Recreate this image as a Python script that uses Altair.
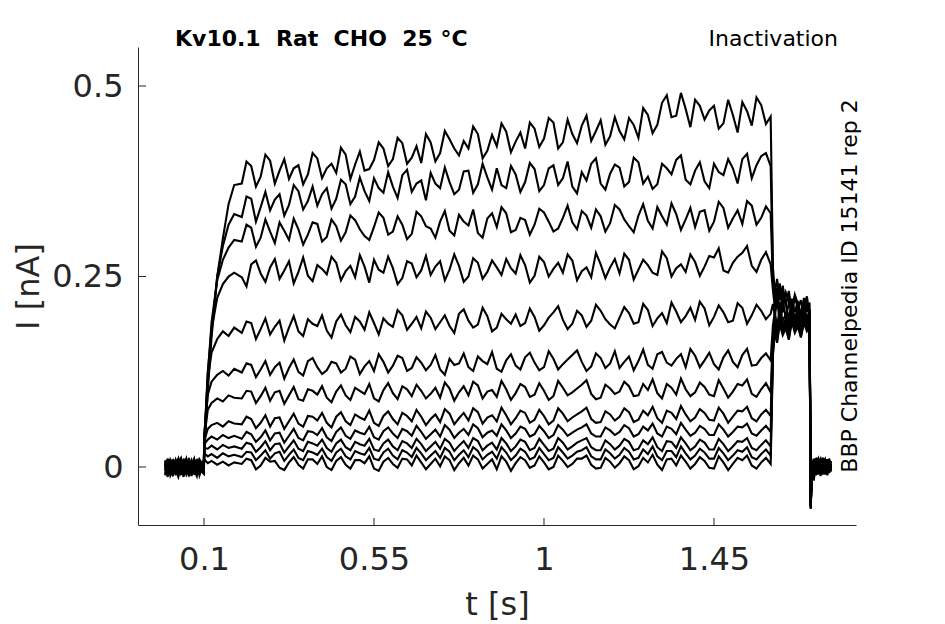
import altair as alt
import pandas as pd

# ---------------- data ----------------
XTICKS = [0.1, 0.55, 1, 1.45]
YTICKS = [0, 0.25, 0.5]

T_BASE = [-0.003, 0.004, 0.011, 0.018, 0.025, 0.032, 0.039, 0.046, 0.053, 0.06,
          0.067, 0.074, 0.081, 0.088, 0.0995]
T_RISE = [0.101, 0.11, 0.12, 0.135, 0.15, 0.165, 0.18]
T_PLATEAU = [0.2, 0.225, 0.25, 0.275, 0.3, 0.325, 0.35, 0.375, 0.4, 0.425,
             0.45, 0.475, 0.5, 0.525, 0.55, 0.575, 0.6, 0.625, 0.65, 0.675,
             0.7, 0.725, 0.75, 0.775, 0.8, 0.825, 0.85, 0.875, 0.9, 0.925,
             0.95, 0.975, 1.0, 1.025, 1.05, 1.075, 1.1, 1.125, 1.15, 1.175,
             1.2, 1.225, 1.25, 1.275, 1.3, 1.325, 1.35, 1.375, 1.4, 1.425,
             1.45, 1.475, 1.5, 1.525, 1.55, 1.575, 1.6]
T_PLATEAU_MID = [0.2125, 0.2375, 0.2625, 0.2875, 0.3125, 0.3375, 0.3625, 0.3875, 0.4125, 0.4375,
                 0.4625, 0.4875, 0.5125, 0.5375, 0.5625, 0.5875, 0.6125, 0.6375, 0.6625, 0.6875,
                 0.7125, 0.7375, 0.7625, 0.7875, 0.8125, 0.8375, 0.8625, 0.8875, 0.9125, 0.9375,
                 0.9625, 0.9875, 1.0125, 1.0375, 1.0625, 1.0875, 1.1125, 1.1375, 1.1625, 1.1875,
                 1.2125, 1.2375, 1.2625, 1.2875, 1.3125, 1.3375, 1.3625, 1.3875, 1.4125, 1.4375,
                 1.4625, 1.4875, 1.5125, 1.5375, 1.5625, 1.5875]
T_TAIL = [1.606, 1.611, 1.617, 1.624, 1.632, 1.64, 1.648, 1.656, 1.664, 1.672,
          1.68, 1.688, 1.696, 1.703]
T_POST = [1.706, 1.709, 1.714, 1.72, 1.726, 1.732, 1.738, 1.744, 1.75, 1.755, 1.76]

BASE = [
    [0.004, -0.009, 0.007, -0.004, 0.01, -0.011, 0.002, 0.008, -0.007, 0.005, -0.012, 0.006, -0.003, 0.009, -0.002],
    [-0.006, 0.008, -0.01, 0.005, -0.003, 0.009, -0.008, 0.001, 0.011, -0.006, 0.004, -0.009, 0.007, -0.005, 0.006],
    [0.009, -0.004, 0.003, -0.012, 0.006, 0.001, -0.007, 0.01, -0.003, -0.01, 0.007, 0.002, -0.008, 0.004, -0.006],
    [-0.002, 0.011, -0.006, 0.004, -0.009, 0.007, 0.012, -0.005, 0.003, 0.008, -0.011, 0.005, 0.009, -0.007, 0.003],
    [0.006, -0.012, 0.009, 0.001, -0.005, -0.013, 0.006, -0.002, 0.009, -0.008, 0.002, 0.011, -0.006, 0.001, -0.004],
    [-0.009, 0.003, -0.002, 0.01, -0.007, 0.004, -0.01, 0.007, -0.005, 0.012, -0.003, -0.008, 0.005, -0.011, 0.007],
    [0.002, 0.007, -0.011, -0.003, 0.008, -0.006, 0.003, -0.013, 0.006, 0.001, 0.009, -0.004, -0.012, 0.008, -0.001],
    [-0.005, -0.001, 0.01, -0.008, 0.002, 0.011, -0.004, 0.005, -0.009, 0.003, -0.006, 0.008, 0.002, -0.009, 0.005],
    [0.008, -0.007, 0.002, 0.006, -0.01, 0.005, -0.002, -0.008, 0.01, -0.004, 0.006, -0.01, 0.004, 0.007, -0.008],
    [-0.011, 0.005, -0.003, -0.006, 0.009, -0.002, 0.008, -0.005, 0.001, -0.012, 0.005, 0.003, -0.007, 0.01, 0.001],
    [0.003, -0.013, 0.006, 0.009, -0.004, 0.002, -0.009, 0.011, -0.006, 0.007, -0.001, -0.005, 0.01, -0.003, -0.009],
    [-0.004, 0.01, -0.008, 0.002, 0.007, -0.01, 0.005, -0.003, 0.008, 0.004, -0.009, 0.007, -0.004, 0.002, 0.008],
]

RISE = [
    [0.02, 0.1, 0.17, 0.25, 0.3, 0.345, 0.37],
    [0.025, 0.11, 0.18, 0.25, 0.29, 0.318, 0.332],
    [0.03, 0.12, 0.19, 0.245, 0.272, 0.288, 0.298],
    [0.035, 0.125, 0.18, 0.222, 0.24, 0.25, 0.255],
    [0.04, 0.115, 0.15, 0.168, 0.178, 0.172, 0.183],
    [0.045, 0.095, 0.112, 0.121, 0.126, 0.12, 0.129],
    [0.04, 0.075, 0.084, 0.09, 0.086, 0.094, 0.091],
    [0.035, 0.05, 0.055, 0.058, 0.053, 0.06, 0.057],
    [0.03, 0.036, 0.04, 0.036, 0.042, 0.038, 0.041],
    [0.025, 0.024, 0.028, 0.023, 0.029, 0.025, 0.027],
    [0.018, 0.014, 0.017, 0.012, 0.018, 0.014, 0.016],
    [0.01, 0.005, 0.008, 0.003, 0.007, 0.002, 0.006],
]

PLATEAU_01 = [0.372, 0.395, 0.381, 0.402, 0.389, 0.378, 0.396, 0.384, 0.405, 0.392,
              0.386, 0.41, 0.397, 0.389, 0.403, 0.418, 0.404, 0.425, 0.406, 0.399,
              0.426, 0.412, 0.43, 0.409, 0.418, 0.437, 0.415, 0.421, 0.44, 0.427,
              0.418, 0.444, 0.431, 0.452, 0.426, 0.437, 0.448, 0.428, 0.455, 0.434,
              0.441, 0.458, 0.432, 0.462, 0.449, 0.488, 0.461, 0.47, 0.482, 0.456,
              0.474, 0.451, 0.462, 0.479, 0.448, 0.475, 0.46]
PLATEAU_02 = [0.328, 0.352, 0.341, 0.337, 0.358, 0.344, 0.362, 0.349, 0.343, 0.366,
              0.352, 0.371, 0.355, 0.362, 0.379, 0.36, 0.368, 0.383, 0.361, 0.376,
              0.386, 0.366, 0.374, 0.364, 0.389, 0.371, 0.38, 0.392, 0.366, 0.384,
              0.374, 0.391, 0.37, 0.396, 0.379, 0.368, 0.387, 0.398, 0.372, 0.385,
              0.393, 0.374, 0.4, 0.381, 0.371, 0.392, 0.403, 0.377, 0.389, 0.375,
              0.398, 0.383, 0.392, 0.404, 0.379, 0.408, 0.395]
PLATEAU_03 = [0.296, 0.314, 0.301, 0.309, 0.321, 0.298, 0.312, 0.305, 0.319, 0.302,
              0.316, 0.308, 0.324, 0.303, 0.315, 0.327, 0.309, 0.318, 0.306, 0.329,
              0.313, 0.322, 0.31, 0.331, 0.317, 0.307, 0.326, 0.315, 0.333, 0.311,
              0.324, 0.318, 0.334, 0.309, 0.327, 0.321, 0.336, 0.314, 0.329, 0.32,
              0.338, 0.316, 0.33, 0.323, 0.341, 0.318, 0.332, 0.325, 0.315, 0.337,
              0.322, 0.34, 0.326, 0.319, 0.343, 0.327, 0.333]
PLATEAU_04 = [0.249, 0.266, 0.254, 0.262, 0.247, 0.27, 0.256, 0.251, 0.265, 0.253,
              0.268, 0.257, 0.249, 0.263, 0.272, 0.255, 0.261, 0.248, 0.267, 0.258,
              0.252, 0.27, 0.259, 0.264, 0.25, 0.268, 0.256, 0.262, 0.273, 0.254,
              0.265, 0.251, 0.269, 0.26, 0.255, 0.271, 0.257, 0.249, 0.266, 0.262,
              0.254, 0.272, 0.259, 0.265, 0.252, 0.274, 0.261, 0.256, 0.269, 0.263,
              0.275, 0.258, 0.268, 0.281, 0.264, 0.272, 0.266]
PLATEAU_05 = [0.176, 0.189, 0.181, 0.174, 0.192, 0.183, 0.178, 0.194, 0.185, 0.179,
              0.191, 0.186, 0.197, 0.18, 0.189, 0.195, 0.184, 0.199, 0.188, 0.182,
              0.196, 0.19, 0.185, 0.201, 0.192, 0.187, 0.198, 0.183, 0.194, 0.2,
              0.189, 0.197, 0.186, 0.203, 0.193, 0.188, 0.199, 0.192, 0.205, 0.187,
              0.196, 0.202, 0.19, 0.206, 0.195, 0.189, 0.204, 0.198, 0.193, 0.208,
              0.197, 0.203, 0.192, 0.209, 0.199, 0.205, 0.201]
PLATEAU_06 = [0.124, 0.134, 0.128, 0.121, 0.137, 0.13, 0.125, 0.139, 0.131, 0.127,
              0.136, 0.129, 0.141, 0.132, 0.126, 0.138, 0.133, 0.143, 0.13, 0.137,
              0.134, 0.128, 0.142, 0.136, 0.131, 0.145, 0.135, 0.129, 0.14, 0.133,
              0.144, 0.137, 0.131, 0.142, 0.135, 0.147, 0.138, 0.132, 0.143, 0.136,
              0.13, 0.145, 0.139, 0.134, 0.148, 0.137, 0.142, 0.131, 0.146, 0.14,
              0.135, 0.144, 0.138, 0.147, 0.133, 0.143, 0.14]
PLATEAU_07 = [0.09, 0.099, 0.093, 0.087, 0.1, 0.094, 0.089, 0.102, 0.095, 0.091,
              0.099, 0.094, 0.104, 0.096, 0.09, 0.101, 0.097, 0.106, 0.093, 0.1,
              0.096, 0.091, 0.103, 0.098, 0.094, 0.107, 0.099, 0.092, 0.102, 0.097,
              0.105, 0.095, 0.1, 0.093, 0.104, 0.098, 0.108, 0.096, 0.091, 0.103,
              0.099, 0.106, 0.094, 0.101, 0.097, 0.109, 0.095, 0.102, 0.098, 0.105,
              0.093, 0.103, 0.099, 0.107, 0.096, 0.102, 0.098]
PLATEAU_08 = [0.056, 0.063, 0.058, 0.053, 0.065, 0.06, 0.057, 0.067, 0.061, 0.058,
              0.066, 0.06, 0.069, 0.062, 0.058, 0.067, 0.063, 0.071, 0.06, 0.066,
              0.063, 0.059, 0.07, 0.064, 0.061, 0.072, 0.065, 0.06, 0.068, 0.064,
              0.071, 0.062, 0.067, 0.061, 0.07, 0.065, 0.073, 0.063, 0.059, 0.069,
              0.066, 0.072, 0.062, 0.068, 0.064, 0.074, 0.063, 0.069, 0.065, 0.071,
              0.061, 0.07, 0.066, 0.073, 0.064, 0.069, 0.067]
PLATEAU_09 = [0.037, 0.043, 0.039, 0.035, 0.045, 0.041, 0.038, 0.047, 0.042, 0.039,
              0.046, 0.041, 0.048, 0.043, 0.039, 0.047, 0.044, 0.05, 0.041, 0.046,
              0.043, 0.04, 0.049, 0.045, 0.042, 0.051, 0.045, 0.041, 0.048, 0.044,
              0.05, 0.043, 0.047, 0.042, 0.049, 0.045, 0.052, 0.044, 0.04, 0.048,
              0.046, 0.051, 0.043, 0.048, 0.044, 0.053, 0.043, 0.049, 0.045, 0.05,
              0.042, 0.049, 0.046, 0.052, 0.044, 0.048, 0.046]
PLATEAU_10 = [0.024, 0.03, 0.026, 0.022, 0.031, 0.027, 0.024, 0.033, 0.028, 0.025,
              0.031, 0.026, 0.033, 0.028, 0.023, 0.031, 0.027, 0.034, 0.025, 0.03,
              0.027, 0.024, 0.032, 0.028, 0.025, 0.034, 0.028, 0.023, 0.031, 0.027,
              0.033, 0.025, 0.029, 0.024, 0.032, 0.027, 0.035, 0.026, 0.022, 0.03,
              0.028, 0.033, 0.024, 0.03, 0.026, 0.034, 0.025, 0.031, 0.027, 0.032,
              0.023, 0.03, 0.027, 0.033, 0.025, 0.029, 0.027]
PLATEAU_11 = [0.013, 0.019, 0.015, 0.011, 0.02, 0.016, 0.012, 0.021, 0.016, 0.013,
              0.019, 0.014, 0.021, 0.016, 0.011, 0.019, 0.015, 0.022, 0.013, 0.018,
              0.015, 0.012, 0.02, 0.016, 0.013, 0.021, 0.016, 0.011, 0.019, 0.015,
              0.02, 0.013, 0.017, 0.012, 0.019, 0.015, 0.022, 0.014, 0.01, 0.018,
              0.016, 0.02, 0.012, 0.017, 0.014, 0.021, 0.013, 0.018, 0.015, 0.019,
              0.011, 0.018, 0.015, 0.02, 0.013, 0.017, 0.015]
PLATEAU_12 = [0.004, 0.009, 0.002, 0.007, -0.001, 0.006, 0.003, 0.01, 0.004, 0.0,
              0.008, 0.003, 0.009, 0.005, -0.002, 0.007, 0.004, 0.011, 0.002, 0.006,
              0.004, 0.001, 0.009, 0.005, 0.002, 0.01, 0.004, -0.003, 0.007, 0.005,
              0.009, 0.002, 0.006, 0.0, 0.008, 0.004, 0.011, 0.003, -0.001, 0.007,
              0.005, 0.009, 0.001, 0.006, 0.003, 0.01, 0.002, 0.007, 0.004, 0.008,
              -0.002, 0.006, 0.004, 0.009, 0.002, 0.006, 0.004]

MID_01 = [0.401, 0.368, 0.41, 0.372, 0.404, 0.392, 0.371, 0.412, 0.379, 0.398,
          0.419, 0.378, 0.414, 0.391, 0.426, 0.395, 0.432, 0.398, 0.421, 0.437,
          0.401, 0.441, 0.418, 0.428, 0.447, 0.405, 0.436, 0.451, 0.413, 0.439,
          0.452, 0.42, 0.458, 0.418, 0.456, 0.425, 0.461, 0.441, 0.423, 0.459,
          0.43, 0.449, 0.471, 0.438, 0.478, 0.459, 0.491, 0.446, 0.474, 0.468,
          0.444, 0.482, 0.439, 0.467, 0.485, 0.45]
MID_02 = [0.355, 0.322, 0.361, 0.351, 0.33, 0.37, 0.338, 0.368, 0.358, 0.339,
          0.377, 0.345, 0.38, 0.349, 0.366, 0.387, 0.353, 0.39, 0.372, 0.35,
          0.372, 0.393, 0.358, 0.388, 0.36, 0.398, 0.364, 0.37, 0.395, 0.361,
          0.399, 0.362, 0.392, 0.37, 0.401, 0.359, 0.376, 0.405, 0.364, 0.397,
          0.368, 0.406, 0.372, 0.365, 0.398, 0.384, 0.409, 0.371, 0.4, 0.366,
          0.387, 0.404, 0.372, 0.411, 0.396, 0.412]
MID_03 = [0.318, 0.289, 0.325, 0.294, 0.31, 0.326, 0.292, 0.321, 0.296, 0.325,
          0.297, 0.33, 0.312, 0.298, 0.334, 0.305, 0.329, 0.299, 0.335, 0.316,
          0.301, 0.336, 0.304, 0.322, 0.338, 0.301, 0.333, 0.341, 0.308, 0.327,
          0.305, 0.339, 0.322, 0.313, 0.343, 0.312, 0.33, 0.338, 0.309, 0.344,
          0.325, 0.308, 0.345, 0.313, 0.329, 0.346, 0.311, 0.34, 0.335, 0.31,
          0.348, 0.314, 0.337, 0.349, 0.318, 0.342]
MID_04 = [0.237, 0.271, 0.243, 0.273, 0.258, 0.241, 0.275, 0.244, 0.26, 0.276,
          0.245, 0.264, 0.278, 0.242, 0.259, 0.276, 0.24, 0.27, 0.249, 0.277,
          0.263, 0.245, 0.279, 0.243, 0.274, 0.247, 0.271, 0.252, 0.261, 0.278,
          0.242, 0.276, 0.25, 0.268, 0.279, 0.245, 0.262, 0.281, 0.248, 0.273,
          0.28, 0.246, 0.272, 0.255, 0.283, 0.25, 0.266, 0.279, 0.251, 0.277,
          0.287, 0.255, 0.276, 0.29, 0.256, 0.282]
MID_05 = [0.191, 0.168, 0.195, 0.184, 0.166, 0.198, 0.172, 0.188, 0.199, 0.17,
          0.2, 0.177, 0.191, 0.203, 0.174, 0.188, 0.206, 0.18, 0.197, 0.204,
          0.181, 0.199, 0.176, 0.207, 0.183, 0.209, 0.178, 0.201, 0.188, 0.185,
          0.208, 0.179, 0.196, 0.211, 0.181, 0.205, 0.184, 0.213, 0.194, 0.182,
          0.21, 0.188, 0.214, 0.185, 0.202, 0.216, 0.19, 0.209, 0.217, 0.186,
          0.212, 0.19, 0.215, 0.188, 0.213, 0.194]
MID_06 = [0.136, 0.118, 0.139, 0.131, 0.116, 0.141, 0.12, 0.143, 0.122, 0.138,
          0.124, 0.145, 0.122, 0.139, 0.148, 0.124, 0.146, 0.126, 0.144, 0.127,
          0.147, 0.121, 0.134, 0.149, 0.126, 0.139, 0.151, 0.125, 0.148, 0.128,
          0.15, 0.127, 0.152, 0.128, 0.141, 0.153, 0.126, 0.149, 0.13, 0.152,
          0.138, 0.127, 0.154, 0.129, 0.151, 0.133, 0.148, 0.155, 0.131, 0.15,
          0.128, 0.153, 0.131, 0.155, 0.134, 0.149]
MID_07 = [0.1, 0.084, 0.104, 0.098, 0.083, 0.105, 0.087, 0.1, 0.106, 0.085,
          0.107, 0.088, 0.1, 0.109, 0.086, 0.11, 0.089, 0.102, 0.108, 0.09,
          0.104, 0.111, 0.087, 0.106, 0.112, 0.09, 0.101, 0.113, 0.088, 0.109,
          0.092, 0.11, 0.088, 0.113, 0.094, 0.103, 0.114, 0.089, 0.108, 0.096,
          0.112, 0.093, 0.109, 0.115, 0.09, 0.104, 0.116, 0.093, 0.111, 0.095,
          0.114, 0.091, 0.109, 0.115, 0.092, 0.11]
MID_08 = [0.066, 0.051, 0.068, 0.064, 0.05, 0.07, 0.053, 0.066, 0.071, 0.052,
          0.072, 0.055, 0.065, 0.074, 0.054, 0.073, 0.056, 0.067, 0.075, 0.055,
          0.069, 0.076, 0.056, 0.071, 0.077, 0.057, 0.068, 0.078, 0.056, 0.074,
          0.058, 0.075, 0.056, 0.077, 0.06, 0.069, 0.078, 0.058, 0.073, 0.061,
          0.077, 0.059, 0.074, 0.079, 0.058, 0.071, 0.08, 0.06, 0.076, 0.062,
          0.078, 0.058, 0.074, 0.079, 0.06, 0.075]
MID_09 = [0.046, 0.033, 0.048, 0.044, 0.032, 0.05, 0.035, 0.046, 0.051, 0.034,
          0.052, 0.037, 0.045, 0.053, 0.036, 0.052, 0.038, 0.047, 0.054, 0.037,
          0.049, 0.055, 0.038, 0.05, 0.056, 0.039, 0.048, 0.056, 0.038, 0.053,
          0.04, 0.054, 0.038, 0.055, 0.041, 0.049, 0.056, 0.04, 0.052, 0.042,
          0.055, 0.04, 0.053, 0.057, 0.04, 0.05, 0.058, 0.041, 0.054, 0.042,
          0.056, 0.04, 0.053, 0.057, 0.041, 0.054]
MID_10 = [0.032, 0.02, 0.034, 0.03, 0.019, 0.035, 0.021, 0.031, 0.036, 0.02,
          0.036, 0.022, 0.03, 0.037, 0.021, 0.036, 0.022, 0.031, 0.037, 0.021,
          0.033, 0.037, 0.021, 0.034, 0.038, 0.022, 0.032, 0.038, 0.021, 0.036,
          0.022, 0.037, 0.021, 0.038, 0.023, 0.032, 0.038, 0.022, 0.035, 0.023,
          0.037, 0.022, 0.035, 0.039, 0.021, 0.033, 0.039, 0.022, 0.036, 0.023,
          0.037, 0.021, 0.034, 0.038, 0.022, 0.035]
MID_11 = [0.02, 0.009, 0.022, 0.018, 0.008, 0.023, 0.009, 0.019, 0.024, 0.008,
          0.024, 0.01, 0.018, 0.025, 0.009, 0.024, 0.01, 0.019, 0.025, 0.009,
          0.021, 0.025, 0.009, 0.022, 0.026, 0.01, 0.02, 0.026, 0.009, 0.024,
          0.01, 0.025, 0.009, 0.026, 0.011, 0.02, 0.026, 0.01, 0.023, 0.011,
          0.025, 0.01, 0.023, 0.027, 0.009, 0.021, 0.027, 0.01, 0.024, 0.011,
          0.025, 0.009, 0.022, 0.026, 0.01, 0.023]
MID_12 = [0.011, -0.003, 0.012, 0.008, -0.004, 0.013, -0.002, 0.01, 0.014, -0.004,
          0.013, -0.002, 0.009, 0.014, -0.005, 0.012, -0.001, 0.01, 0.015, -0.003,
          0.011, 0.014, -0.004, 0.012, 0.015, -0.002, 0.01, 0.014, -0.005, 0.013,
          -0.001, 0.014, -0.003, 0.015, 0.0, 0.011, 0.015, -0.002, 0.012, -0.001,
          0.014, -0.003, 0.012, 0.016, -0.004, 0.011, 0.015, -0.002, 0.013, -0.001,
          0.014, -0.004, 0.012, 0.015, -0.002, 0.012]

TAIL = [
    [0.262, 0.228, 0.247, 0.219, 0.238, 0.212, 0.231, 0.205, 0.226, 0.214, 0.197, 0.222, 0.203, 0.216],
    [0.251, 0.236, 0.214, 0.241, 0.209, 0.229, 0.218, 0.199, 0.224, 0.207, 0.219, 0.196, 0.214, 0.205],
    [0.243, 0.217, 0.235, 0.206, 0.226, 0.214, 0.193, 0.221, 0.203, 0.218, 0.2, 0.212, 0.224, 0.198],
    [0.232, 0.209, 0.228, 0.2, 0.219, 0.196, 0.215, 0.207, 0.19, 0.214, 0.198, 0.209, 0.193, 0.206],
    [0.214, 0.198, 0.219, 0.191, 0.208, 0.2, 0.186, 0.212, 0.195, 0.204, 0.189, 0.207, 0.197, 0.203],
    [0.186, 0.204, 0.183, 0.209, 0.192, 0.2, 0.182, 0.206, 0.191, 0.198, 0.185, 0.203, 0.192, 0.199],
    [0.172, 0.196, 0.18, 0.201, 0.187, 0.194, 0.179, 0.203, 0.188, 0.196, 0.181, 0.2, 0.19, 0.195],
    [0.165, 0.191, 0.176, 0.198, 0.183, 0.19, 0.176, 0.2, 0.185, 0.193, 0.178, 0.197, 0.187, 0.192],
    [0.16, 0.186, 0.172, 0.195, 0.18, 0.188, 0.173, 0.197, 0.182, 0.191, 0.176, 0.195, 0.184, 0.19],
    [0.155, 0.183, 0.169, 0.192, 0.178, 0.186, 0.171, 0.195, 0.18, 0.189, 0.174, 0.193, 0.182, 0.188],
    [0.15, 0.18, 0.166, 0.19, 0.175, 0.184, 0.169, 0.193, 0.178, 0.187, 0.172, 0.191, 0.18, 0.186],
    [0.146, 0.177, 0.163, 0.188, 0.173, 0.182, 0.167, 0.191, 0.176, 0.185, 0.17, 0.189, 0.178, 0.184],
]

POST = [
    [-0.052, -0.006, 0.011, -0.008, 0.009, -0.004, 0.012, -0.007, 0.006, -0.003, 0.004],
    [-0.048, 0.004, -0.009, 0.01, -0.005, 0.008, -0.01, 0.005, -0.006, 0.009, -0.001],
    [-0.055, -0.012, 0.006, -0.003, 0.012, -0.009, 0.004, 0.01, -0.008, 0.003, 0.007],
    [-0.045, 0.002, -0.014, 0.007, -0.002, 0.011, -0.006, 0.002, 0.01, -0.007, 0.001],
    [-0.05, -0.009, 0.009, -0.011, 0.005, -0.001, 0.01, -0.009, 0.003, 0.008, -0.005],
    [-0.047, 0.006, -0.004, 0.012, -0.01, 0.006, -0.003, 0.008, -0.011, 0.004, 0.002],
    [-0.053, -0.003, 0.008, -0.006, 0.01, -0.012, 0.007, -0.002, 0.009, -0.004, 0.005],
    [-0.044, 0.007, -0.018, 0.004, -0.007, 0.009, -0.004, 0.011, -0.005, 0.006, -0.003],
    [-0.051, -0.01, 0.003, 0.009, -0.008, 0.002, 0.012, -0.01, 0.005, -0.002, 0.008],
    [-0.046, 0.003, -0.007, 0.005, 0.011, -0.006, 0.001, -0.008, 0.01, -0.005, 0.003],
    [-0.049, -0.007, 0.01, -0.004, 0.003, 0.01, -0.009, 0.006, -0.003, 0.011, -0.006],
    [-0.054, 0.001, -0.005, 0.008, -0.009, 0.004, 0.009, -0.005, 0.007, -0.008, 0.002],
]

PLATEAUS = [PLATEAU_01, PLATEAU_02, PLATEAU_03, PLATEAU_04, PLATEAU_05, PLATEAU_06,
            PLATEAU_07, PLATEAU_08, PLATEAU_09, PLATEAU_10, PLATEAU_11, PLATEAU_12]
MIDS = [MID_01, MID_02, MID_03, MID_04, MID_05, MID_06,
        MID_07, MID_08, MID_09, MID_10, MID_11, MID_12]

TITLE_LEFT = "Kv10.1\u00a0\u00a0Rat\u00a0\u00a0CHO\u00a0\u00a025\u00a0°C"
TITLE_RIGHT = "Inactivation"
SIDE_TEXT = "BBP Channelpedia ID 15141 rep 2"

# ---------------- build table ----------------
rows = []
for k in range(12):
    pts = []
    for ts, vs in [(T_BASE, BASE[k]), (T_RISE, RISE[k]), (T_PLATEAU, PLATEAUS[k]),
                   (T_PLATEAU_MID, MIDS[k]), (T_TAIL, TAIL[k]), (T_POST, POST[k])]:
        pts.extend(zip(ts, vs))
    pts.sort(key=lambda p: p[0])
    for seq, (t, v) in enumerate(pts):
        rows.append({"trace": k, "seq": seq, "t": t, "I": v})
df = pd.DataFrame(rows)

FONT = "DejaVu Sans"
GREY = "#262626"
W, H = 718, 478

xscale = alt.Scale(domain=[-0.0747, 1.8259], nice=False, zero=False)
yscale = alt.Scale(domain=[-0.0761, 0.5512], nice=False, zero=False)

xaxis = alt.Axis(values=XTICKS, labelExpr="toString(datum.value)", title="t [s]",
                 ticks=False, tickSize=0,
                 labelPadding=19, labelOverlap=False, labelFlush=False,
                 titleX=359, titleY=89, titleBaseline="alphabetic", titleAlign="center")
yaxis = alt.Axis(values=YTICKS, labelExpr="toString(datum.value)", title="I [nA]",
                 ticks=False, tickSize=0,
                 labelPadding=15, labelOverlap=False, labelFlush=False,
                 titleX=-110, titleY=239, titleBaseline="middle", titleAlign="center",
                 titleAngle=270)

lines = alt.Chart(df).mark_line(color="black", strokeWidth=2.1).encode(
    x=alt.X("t:Q", scale=xscale, axis=xaxis),
    y=alt.Y("I:Q", scale=yscale, axis=yaxis),
    detail="trace:N",
    order="seq:Q",
)

xt = alt.Chart(pd.DataFrame({"t": XTICKS})).mark_rule(color=GREY, strokeWidth=1).encode(
    x=alt.X("t:Q", scale=xscale, axis=xaxis),
    y=alt.value(H), y2=alt.value(H - 7),
)
yt = alt.Chart(pd.DataFrame({"I": YTICKS})).mark_rule(color=GREY, strokeWidth=1).encode(
    y=alt.Y("I:Q", scale=yscale, axis=yaxis),
    x=alt.value(0), x2=alt.value(8),
)

one = pd.DataFrame({"a": [0]})
t_left = alt.Chart(one).mark_text(text=TITLE_LEFT, font=FONT, fontSize=22, fontWeight="bold",
                                  align="left", baseline="alphabetic", color="black").encode(
    x=alt.value(37), y=alt.value(-1))
t_right = alt.Chart(one).mark_text(text=TITLE_RIGHT, font=FONT, fontSize=22,
                                   align="right", baseline="alphabetic", color="black").encode(
    x=alt.value(700), y=alt.value(-1))
t_side = alt.Chart(one).mark_text(text=SIDE_TEXT, font=FONT, fontSize=22, angle=270,
                                  align="center", baseline="middle", color="black").encode(
    x=alt.value(712), y=alt.value(239))

chart = alt.layer(lines, xt, yt, t_left, t_right, t_side).properties(
    width=W, height=H, autosize="none",
    padding={"left": 130, "top": 39, "right": 70, "bottom": 98},
).configure_view(stroke=None).configure_axis(
    domainColor=GREY, domainWidth=1, labelColor=GREY, titleColor=GREY,
    labelFont=FONT, titleFont=FONT, labelFontSize=32, titleFontSize=32,
    titleFontWeight="normal", grid=False,
)

chart.save("out.html", embed_options={"renderer": "svg", "actions": False})
